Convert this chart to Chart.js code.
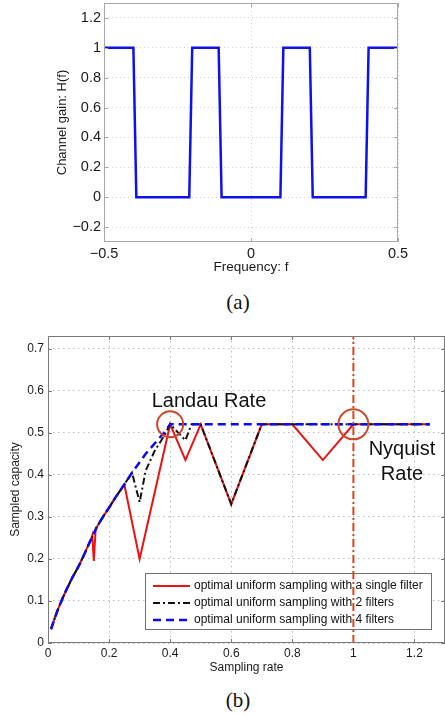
<!DOCTYPE html>
<html>
<head>
<meta charset="utf-8">
<script src="https://cdn.jsdelivr.net/npm/chart.js@4.4.1/dist/chart.umd.min.js"></script>
<style>
  html, body { margin: 0; padding: 0; background: #fff; width: 445px; height: 716px; overflow: hidden; }
  #wrapA { position: absolute; left: 0; top: 0; width: 445px; height: 282px; }
  #wrapB { position: absolute; left: 0; top: 320px; width: 445px; height: 360px; }
  .cap { position: absolute; font-family: "Liberation Serif", "DejaVu Serif", serif; font-size: 21px; color: #111;
         transform: translate(-50%, -50%); white-space: nowrap; }
  .note { position: absolute; font-family: "Liberation Sans", Arial, sans-serif; font-size: 20px; color: #111;
          text-align: center; line-height: 25px; transform: translate(-50%, -50%); white-space: nowrap; }
</style>
</head>
<body>
<div id="wrapA"><canvas id="chartGain"></canvas></div>
<div class="cap" style="left:238px; top:302px;">(a)</div>
<div id="wrapB"><canvas id="chartCapacity"></canvas></div>
<div class="note" style="left:209px; top:400px;">Landau Rate</div>
<div class="note" style="left:402px; top:461px;">Nyquist<br>Rate</div>
<div class="cap" style="left:238px; top:700px;">(b)</div>

<script>
// ── (a) channel gain ──
const freq = [-0.5, -0.4, -0.39, -0.21, -0.2, -0.11, -0.1, 0.1, 0.11, 0.2, 0.21, 0.39, 0.4, 0.5];
const gain = [1, 1, 0, 0, 1, 1, 0, 0, 1, 1, 0, 0, 1, 1];
const freqTicks  = [-0.5, 0, 0.5];
const freqLabels = ['\u22120.5', '0', '0.5'];
const gainTicks  = [-0.2, 0, 0.2, 0.4, 0.6, 0.8, 1, 1.2];
const gainLabels = ['\u22120.2', '0', '0.2', '0.4', '0.6', '0.8', '1', '1.2'];

// ── (b) sampled capacity ──
const rate1 = [0.01, 0.02, 0.03, 0.04, 0.05, 0.06, 0.08, 0.10, 0.12, 0.14, 0.145, 0.15, 0.156, 0.16, 0.18, 0.20, 0.22, 0.25,
               0.30, 0.40, 0.45, 0.50, 0.60, 0.70, 0.80, 0.90, 1.00, 1.25];
const cap1  = [0.033, 0.055, 0.075, 0.093, 0.11, 0.126, 0.156, 0.182, 0.213, 0.245, 0.256, 0.195, 0.27, 0.276, 0.30, 0.322, 0.345, 0.377,
               0.20, 0.52, 0.435, 0.52, 0.33, 0.52, 0.52, 0.435, 0.52, 0.52];
const rate2 = [0.01, 0.02, 0.03, 0.04, 0.05, 0.06, 0.08, 0.10, 0.12, 0.14, 0.16, 0.18, 0.20, 0.22, 0.25,
               0.275, 0.30, 0.32, 0.35, 0.38, 0.40, 0.45, 0.47, 0.50, 0.60, 0.70, 1.25];
const cap2  = [0.033, 0.055, 0.075, 0.093, 0.11, 0.126, 0.156, 0.182, 0.213, 0.245, 0.276, 0.30, 0.322, 0.345, 0.377,
               0.405, 0.335, 0.41, 0.458, 0.492, 0.52, 0.482, 0.52, 0.52, 0.33, 0.52, 0.52];
const rate4 = [0.01, 0.02, 0.03, 0.04, 0.05, 0.06, 0.08, 0.10, 0.12, 0.14, 0.16, 0.18, 0.20, 0.22, 0.25,
               0.28, 0.30, 0.32, 0.35, 0.38, 0.40, 1.25];
const cap4  = [0.033, 0.055, 0.075, 0.093, 0.11, 0.126, 0.156, 0.182, 0.213, 0.245, 0.276, 0.30, 0.322, 0.345, 0.377,
               0.41, 0.43, 0.45, 0.475, 0.50, 0.52, 0.52];
const nyquistRate = 1;
const markRate   = [0.4, 1];
const markCap    = [0.52, 0.52];
const rateTicks  = [0, 0.2, 0.4, 0.6, 0.8, 1, 1.2];
const rateLabels = ['0', '0.2', '0.4', '0.6', '0.8', '1', '1.2'];
const capTicks   = [0, 0.1, 0.2, 0.3, 0.4, 0.5, 0.6, 0.7];
const capLabels  = ['0', '0.1', '0.2', '0.3', '0.4', '0.5', '0.6', '0.7'];
const legendLabels = [
  'optimal uniform sampling with a single filter',
  'optimal uniform sampling with 2 filters',
  'optimal uniform sampling with 4 filters',
];

const FONT = '"Liberation Sans", Arial, Helvetica, sans-serif';
Chart.defaults.font.family = FONT;
Chart.defaults.color = '#1a1a1a';

const toPts = (xs, ys) => xs.map((x, i) => ({ x, y: ys[i] }));

// box round the plot + inward tick marks (matlab look)
const frame = {
  id: 'frame',
  afterDraw(chart, args, opts) {
    const { ctx, chartArea: a, scales: { x, y } } = chart;
    ctx.save();
    ctx.strokeStyle = opts.color;
    ctx.lineWidth = 1;
    ctx.strokeRect(a.left + 0.5, a.top + 0.5, a.right - a.left - 1, a.bottom - a.top - 1);
    ctx.beginPath();
    x.ticks.forEach(t => {
      const p = Math.round(x.getPixelForValue(t.value)) + 0.5;
      ctx.moveTo(p, a.bottom); ctx.lineTo(p, a.bottom - 4);
      ctx.moveTo(p, a.top);    ctx.lineTo(p, a.top + 4);
    });
    y.ticks.forEach(t => {
      const p = Math.round(y.getPixelForValue(t.value)) + 0.5;
      ctx.moveTo(a.left, p);  ctx.lineTo(a.left + 4, p);
      ctx.moveTo(a.right, p); ctx.lineTo(a.right - 4, p);
    });
    ctx.stroke();
    ctx.restore();
  }
};

// legend box inside the plot, bottom right
const boxLegend = {
  id: 'boxLegend',
  beforeDatasetsDraw(chart, args, opts) {
    if (!opts.labels) return;
    const { ctx, chartArea: a } = chart;
    const w = 286, h = 56;
    const x0 = a.right - 14 - w, y0 = a.bottom - 14 - h;
    ctx.save();
    ctx.fillStyle = '#fff';
    ctx.fillRect(x0, y0, w, h);
    ctx.strokeStyle = '#707070';
    ctx.lineWidth = 1;
    ctx.strokeRect(x0 + 0.5, y0 + 0.5, w, h);
    ctx.font = '12px ' + FONT;
    ctx.textBaseline = 'middle';
    opts.labels.forEach((lab, i) => {
      const ds = chart.data.datasets[i];
      const yy = y0 + 13 + i * 17;
      ctx.strokeStyle = ds.borderColor;
      ctx.lineWidth = ds.borderWidth;
      ctx.setLineDash(ds.borderDash || []);
      ctx.beginPath(); ctx.moveTo(x0 + 8, yy); ctx.lineTo(x0 + 45, yy); ctx.stroke();
      ctx.setLineDash([]);
      ctx.fillStyle = '#111';
      ctx.fillText(lab, x0 + 49, yy);
    });
    ctx.restore();
  }
};

// fixed axis sizes, no extra label padding pushed into the chart area
const fixX = h => s => { s.height = h; s.paddingLeft = 0; s.paddingRight = 0; };
const fixY = w => s => { s.width = w; s.paddingTop = 0; s.paddingBottom = 0; };

function axis(ticks, labels, fontSize, pad, gridColor, dash, extra) {
  return Object.assign({
    type: 'linear',
    afterBuildTicks: s => { s.ticks = ticks.map(v => ({ value: v })); },
    ticks: { font: { size: fontSize }, color: '#1a1a1a', padding: pad, callback: (v, i) => labels[i] },
    grid: { color: gridColor, lineWidth: 1, drawTicks: false },
    border: { display: false, dash: dash },
  }, extra);
}

new Chart(document.getElementById('chartGain'), {
  type: 'line',
  data: {
    datasets: [{
      data: toPts(freq, gain),
      borderColor: '#1010ee', borderWidth: 2.5, pointRadius: 0, tension: 0, fill: false,
    }]
  },
  options: {
    responsive: true, maintainAspectRatio: false, animation: false,
    layout: { autoPadding: false, padding: { top: 3, right: 47, left: 0, bottom: 0 } },
    plugins: { legend: { display: false }, tooltip: { enabled: false }, frame: { color: '#a8a8a8' } },
    scales: {
      x: axis(freqTicks, freqLabels, 14.5, 3, '#d2d2d2', [1, 3], {
        min: -0.5, max: 0.5,
        afterFit: fixX(40),
        title: { display: true, text: 'Frequency: f', font: { size: 13.5 }, color: '#1a1a1a', padding: { top: 0, bottom: 7 } },
      }),
      y: axis(gainTicks, gainLabels, 14.5, 3, '#d2d2d2', [1, 3], {
        min: -0.3, max: 1.3,
        afterFit: fixY(104),
        title: { display: true, text: 'Channel gain: H(f)', font: { size: 13 }, color: '#1a1a1a', padding: { top: 55, bottom: 0 } },
      }),
    }
  },
  plugins: [frame]
});

new Chart(document.getElementById('chartCapacity'), {
  type: 'line',
  data: {
    datasets: [
      { data: toPts(rate1, cap1), borderColor: '#ee1111', borderWidth: 2, borderDash: [], order: 3 },
      { data: toPts(rate2, cap2), borderColor: '#111111', borderWidth: 2, borderDash: [7, 3, 2, 3], order: 2 },
      { data: toPts(rate4, cap4), borderColor: '#0a0af0', borderWidth: 2.5, borderDash: [8, 5], order: 1 },
      { data: toPts([nyquistRate, nyquistRate], [0, 0.73]), borderColor: '#e2401c', borderWidth: 2,
        borderDash: [8, 3, 2, 3], order: 0 },
      { data: toPts(markRate, markCap), showLine: false, order: -1,
        pointRadius: [13, 15], pointBorderWidth: 2, pointBorderColor: '#c9482a', pointBackgroundColor: 'rgba(0,0,0,0)' },
    ].map(ds => Object.assign({ pointRadius: 0, tension: 0, fill: false }, ds))
  },
  options: {
    responsive: true, maintainAspectRatio: false, animation: false,
    layout: { autoPadding: false, padding: { top: 16, right: 0, left: 0, bottom: 0 } },
    plugins: {
      legend: { display: false }, tooltip: { enabled: false },
      frame: { color: '#7a7a7a' },
      boxLegend: { labels: legendLabels },
    },
    scales: {
      x: axis(rateTicks, rateLabels, 12, 3, '#bdbdbd', [1.5, 3.5], {
        min: 0, max: 1.3,
        afterFit: fixX(37),
        title: { display: true, text: 'Sampling rate', font: { size: 12 }, color: '#1a1a1a', padding: { top: 0, bottom: 5 } },
      }),
      y: axis(capTicks, capLabels, 12, 4, '#bdbdbd', [1.5, 3.5], {
        min: 0, max: 0.73,
        afterFit: fixY(48),
        title: { display: true, text: 'Sampled capacity', font: { size: 12 }, color: '#1a1a1a', padding: { top: 8, bottom: 0 } },
      }),
    }
  },
  plugins: [frame, boxLegend]
});
</script>
</body>
</html>
